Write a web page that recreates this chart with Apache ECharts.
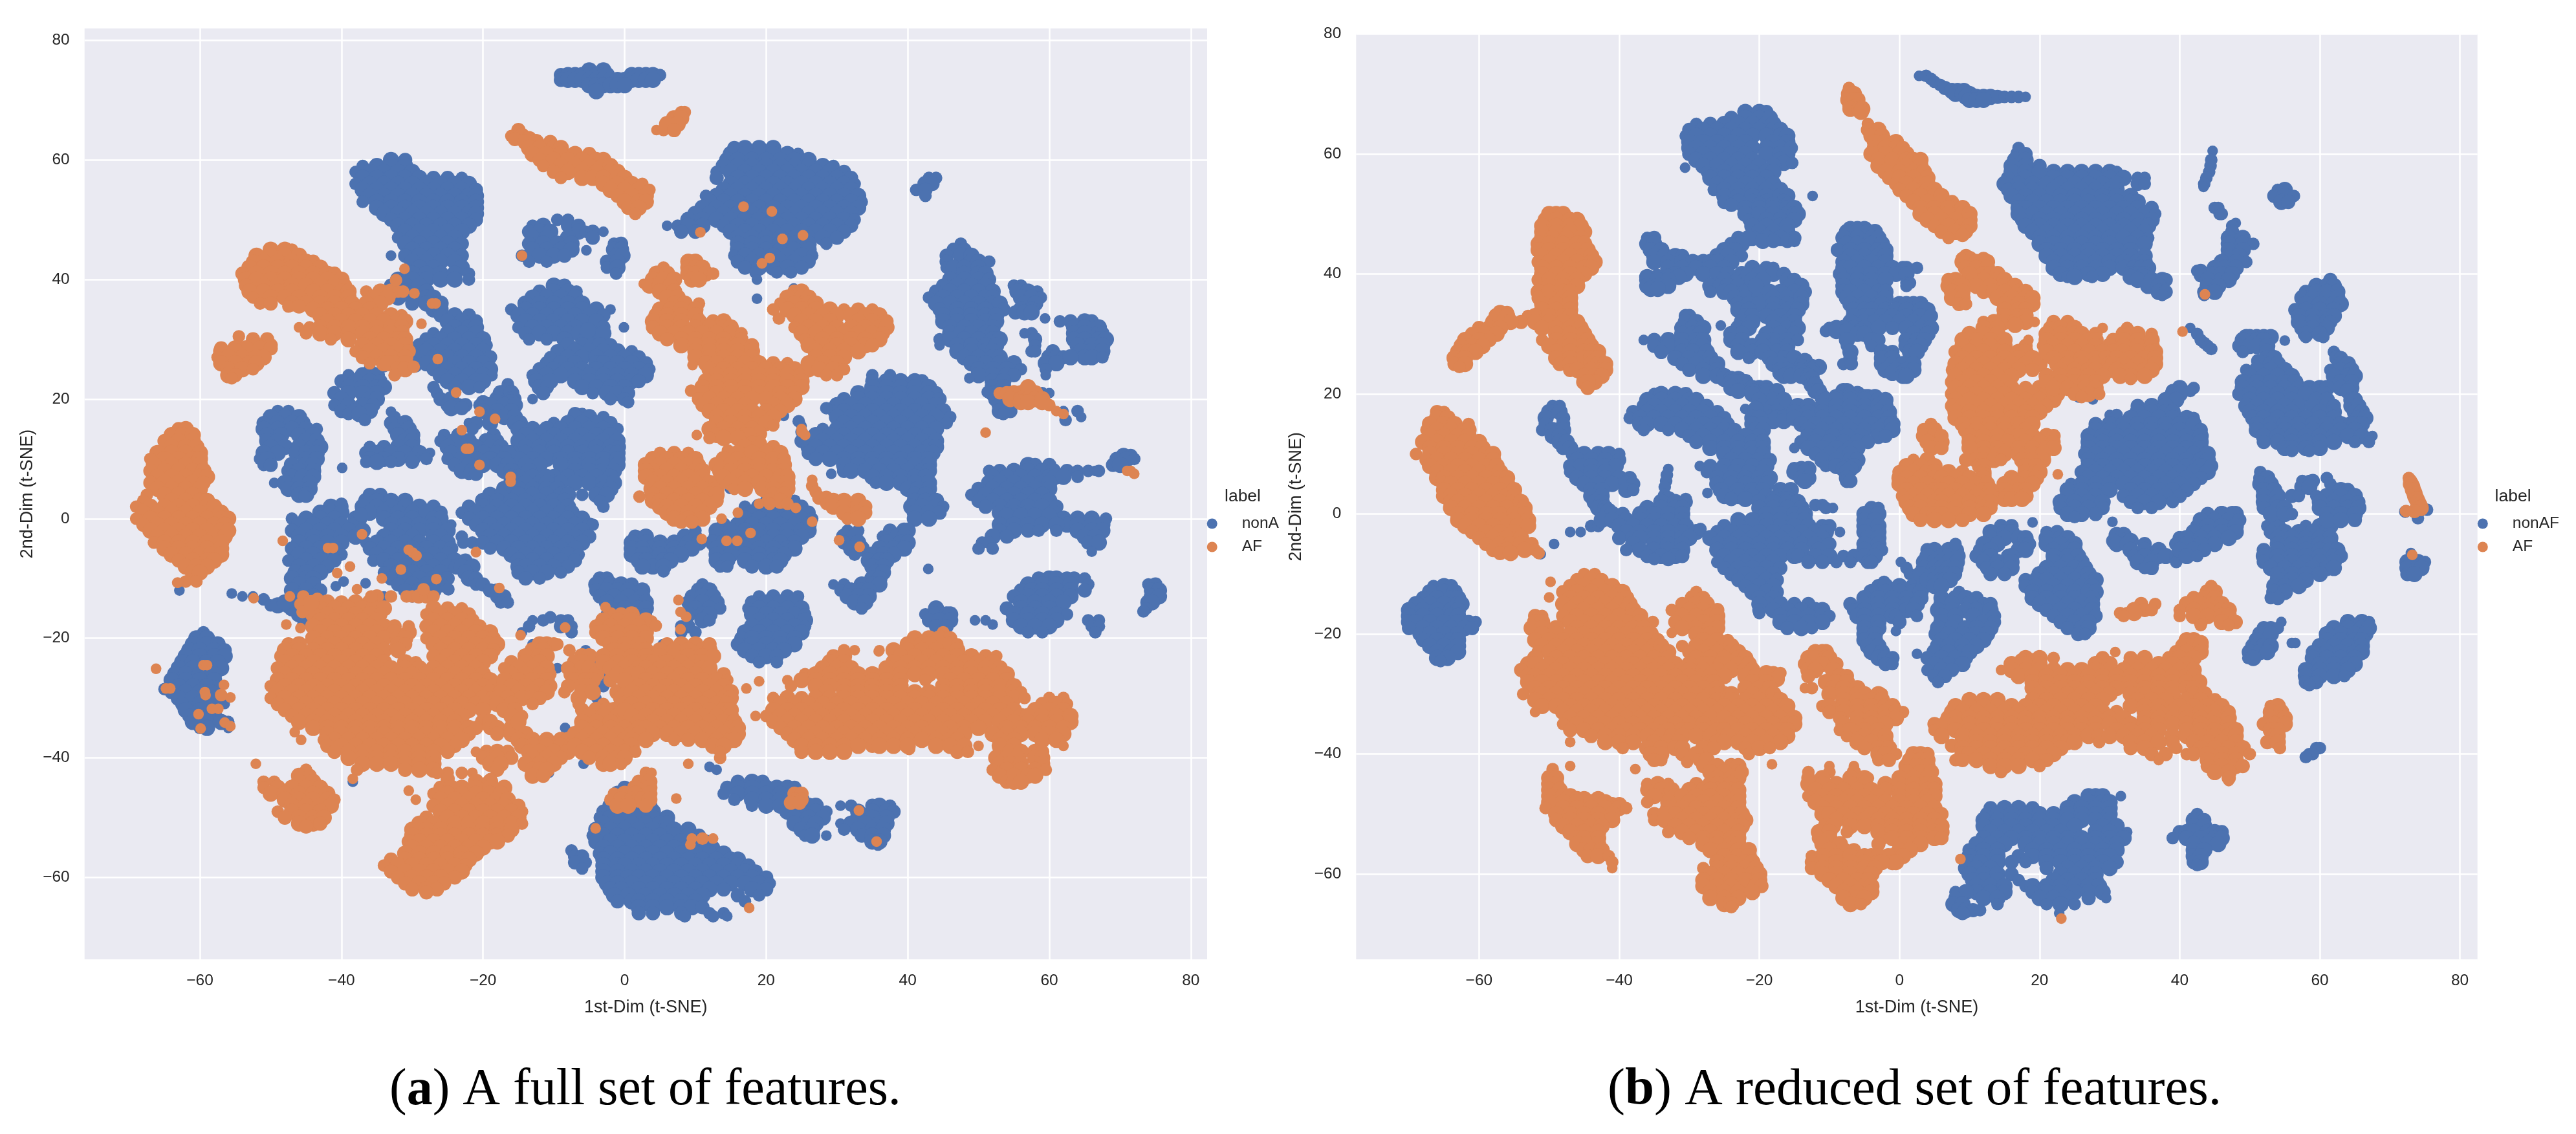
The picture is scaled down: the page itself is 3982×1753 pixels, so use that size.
<!DOCTYPE html>
<html><head><meta charset="utf-8">
<script src="https://cdn.jsdelivr.net/npm/echarts@6/dist/echarts.min.js"></script>
<style>html,body{margin:0;padding:0;background:#fff}#c{width:3982px;height:1753px}</style></head>
<body><div id="c"></div>
<script>
// Each row: [y, x, x, x ...], in t-SNE data units.
const xTickLabels=[-60,-40,-20,0,20,40,60,80];
const yTickLabels=[-60,-40,-20,0,20,40,60,80];
const fullNonAF=[
[75,-5,-3],[74.2,-9,-8,-7,-6,-5,-4,-3,-2.5,1,2,3,4,5],[73.4,-9,-8,-7,-6,-5,-4,-3,-2,-1,0,1,2,3,4],[72.5,-5,-4,-3,-2,-1,0],[71.5,-4],
[60,-33,-31],[59,-37,-35,-33,-31],[58,-38,-36,-34,-32,-30],[57,-37,-35,-33,-31,-29,-27,-25,-23],[56,-38,-36,-34,-32,-30,-28,-26,-24,-22],[55,-37,-35,-33,-31,-29,-27,-25,-23,-21],[54,-36,-34,-32,-30,-28,-26,-24,-22,-21],[53,-37,-35,-33,-31,-29,-27,-25,-23,-21],[52,-35,-33,-31,-29,-27,-25,-23,-21],[51,-34,-32,-30,-28,-26,-24,-22,-21],[50,-33,-31,-29,-27,-25,-23,-21],[49,-32,-30,-28,-26,-24,-22],[48,-31,-29,-27,-25,-23],[47,-32,-30,-28,-26,-24],[46,-31,-29,-27,-25,-23],[45,-30,-28,-26,-24],[44,-33,-31,-29,-27,-25,-23],[43,-30,-28,-26,-24],[42,-29,-27,-23],[41,-30,-28,-26,-24,-22],[40,-32,-30,-28,-26,-24,-22],
[39,-33,-31,-29],[38,-33,-31,-28],[37,-32,-30,-28,-27],[36,-30,-28,-26],[35,-27,-26],[34,-26],
[34,-24,-22],[33,-25,-23,-21],[32,-24,-22,-21],[31,-27,-25,-23,-21],[30,-28,-26,-24,-22,-20],[29,-29,-27,-25,-23,-21,-19.5],[28,-30,-28,-26,-24,-22,-20],[27,-29.5,-27,-25,-23,-21,-19],[26,-30,-28,-26,-24,-22,-20],[25,-27,-25,-23,-21,-19],[25.5,-34,-32.5,-31,-29.5],[24,-26,-24,-22,-20,-18.8],[23,-25,-23,-21,-20],[22,-24,-22,-20.5],
[25,-36],[24,-39,-37,-35],[23,-40,-38,-36,-34.5],[22,-39,-37,-35,-34],[21,-41,-39,-37,-35],[20,-40,-36,-35],[19,-41,-39,-37,-35.5],[18,-40,-38,-36],[17.5,-39,-37.5],[16.5,-36.7],[17.9,-33],
[22,-27],[21,-26.5],[20,-26,-24.5],[19,-25,-23.5,-22.5],[18.5,-24.5,-23],
[22.5,-16.5],[21.5,-16.5],[21,-17.5,-16],[20,-18,-16,-15.7],[19.5,-20,-18,-16],[19,-20.5,-19,-17,-15.5],[18,-20,-18,-16],[17,-19,-17,-15.5],[16,-22,-21,-19,-15.5,-14.8],[15,-21.5,-15,-14.8],
[17.5,-7,-6],[17,-7,-5,-3],[16,-10,-8,-6,-4,-2],[15,-13,-11,-9,-7,-5,-3,-1],[14,-14,-12,-10,-8,-6,-4,-2],[13,-15,-13,-11,-9,-7,-5,-3,-1],[12,-14,-12,-10,-8,-6,-4,-2,-0.8],[11,-16,-14,-12,-10,-8,-6,-4,-2,-1],[10,-15,-13,-11,-9,-7,-5,-3,-1],[9,-14,-12,-9,-7,-5,-3,-1],[8,-13.5,-7,-5,-3,-1.5],[7,-10,-8,-6,-4,-2],[6,-11,-9,-7,-5,-3,-1.5],[5,-3,-2],[4,-6,-4,-2.5],[3,-3.5],[2,-3],
[17,-32.5],[16,-33,-31],[15,-32.5,-30.5],[14,-32,-30],[13,-31,-30],[12,-36,-34,-32,-30],[11,-36.5,-35,-33,-31,-29,-27.5],[10,-36,-34,-32,-30,-28],[9.5,-36.5,-35,-33,-30],
[14,-25.5,-23.5,-18.5],[13,-26,-24,-22,-19.5,-18],[12,-25,-23,-21,-19,-17.5],[11,-24.5,-22,-20,-18,-16.5],[10,-25,-23,-21,-19,-17],[9,-24,-22,-20,-18,-16.5],[8,-23,-21.5,-17,-16],[7.5,-22,-21],[8.5,-39.9],
[18,-49,-47.5],[17,-50,-48,-46],[16,-51,-49,-47,-45.5],[15,-51,-49,-47,-45,-43.5],[14,-50.5,-48.5,-46,-44],[13,-50.5,-49,-45,-43.5],[12,-50,-48,-46,-44,-43],[11,-51,-49,-46.5,-45,-43.5],[10,-51.5,-50.5,-45,-43.5],[9,-51,-50,-47,-45,-44],[8,-47.5,-46,-44],[7,-47,-45.5,-44],[6,-49.5,-48,-46,-44.5],[5,-47.5,-46,-44.5],[4,-46,-45],[3.8,-45.2],
[2.5,-40],[2,-41.5,-40],[1,-43,-41.5,-40],[0,-47,-45,-43,-41,-38,-37.5],[-1,-46,-44,-42,-40,-38],[-2,-47,-45,-43,-41,-39,-37],[-3,-46,-44,-42,-40,-38],[-4,-46,-44,-42,-40],[-5,-47,-45,-43,-41],[-6,-46,-44,-42,-40],[-7,-47.5,-45,-43,-41],[-8,-46,-44,-42],[-9,-46.5,-45,-43],[-10,-47,-45,-44],[-11,-46,-44],[-12,-47,-45,-43],[-13,-46,-44],[-14,-47,-45,-43],[-15,-47,-45],[-16,-46,-45],[-17.5,-45.5],
[-12.5,-55.5],[-13,-54,-52.5],[-13.5,-51],[-14.5,-50,-49,-47.5],[-14,-48],[-11.3,-40.8],[-10.5,-39.7],[-10.8,-36.6],[-13,-34,-35.5],
[4,-36,-34.5],[3,-36.5,-35,-33,-31],[2,-37,-35,-33,-31,-29,-27],[1,-36,-34,-32,-30,-28,-26],[0.7,-37.3],[0,-34,-32,-30,-27,-26],[-1,-33,-31,-29,-27,-24.5],[-2,-33,-31,-29,-27,-25],[-3,-34,-32,-30,-27,-26],[-4,-36.5,-35,-33,-31,-29,-27,-25],[-5,-36,-34,-32,-30,-28,-26,-24.5],[-6,-35,-33,-31,-29,-27,-25],[-7,-35.5,-34,-32,-30,-28,-26,-24],[-8,-33,-31,-29,-27,-25,-23.7],[-9,-34,-32,-30,-28,-26],[-10,-33,-31,-29,-27,-25],[-11,-32,-30,-28,-26],[-12,-31,-29,-27],[-13,-30,-28],[-11.8,-24.9],
[-3,-23],[-4,-22.8,-21.5],[-7,-22.5],[-8,-23,-21.5],[-9,-22.5],[-10,-22,-21],[-11,-21,-20],[-12,-19,-18],[-13,-18,-17],[-14,-17.5,-16.5],
[7,-16,-15,-13,-11],[6,-16,-14,-12,-11],[5,-17,-15,-13,-11,-9.5],[4,-19,-17.5,-15,-13,-11,-9,-8],[3,-20,-18,-16,-14,-12,-10,-8.5],[2,-22,-20,-18,-16,-14,-12,-10,-8],[1,-23,-21,-19,-17,-15,-13,-11,-9,-7.5],[0,-22,-20,-18,-16,-14,-12,-10,-8,-6],[-1,-21,-19,-17,-15,-13,-11,-9,-7,-5,-4.5],[-2,-20,-18,-16,-14,-12,-10,-8,-6],[-3,-19,-17,-15,-13,-11,-9,-7,-5],[-4,-20,-18,-16,-14,-12,-10,-8,-6],[-5,-19,-17,-15,-13,-11,-9,-7],[-6,-16,-14,-12,-10,-8,-6.5],[-7,-15,-13,-11,-9,-7],[-8,-15,-14,-12,-10,-8],[-9,-15,-13,-11,-9],[-10,-14,-12],[20,-13],
[39,-10,-8.5],[38,-12,-10,-8,-6.8],[37,-13,-11,-9,-7],[36,-14,-12,-10,-8,-6],[35,-16,-14,-12,-10,-8,-6,-4,-2],[34,-15,-13,-11,-9,-7,-5,-3],[33,-14,-12,-10,-8,-6,-4],[32,-15,-13,-11,-9,-7,-3],[31,-14,-12,-10,-8,-6.5,-4.5,-3],[30,-13.5,-11,-8.5,-5.5],[31.5,-5.2],[32,-0.1],
[29,-8,-6,-3.5,-2],[28,-9.5,-7,-5,-3,-1,1],[27,-10.5,-8,-6,-4,-2,0,2],[26,-11,-9,-7,-4,-3,-1,1,3],[25,-12,-10,-8,-6,-4,-2,0,2,3.5],[24,-13,-11,-9,-7,-5,-3,-1,1,3],[23,-12.5,-10.5,-7,-5,-3,-1,1,2],[22,-12,-11,-6,-4,-2,0],[21,-11.5,-4.5,-2.5,-1,0.5],[20,-2,0],[19.5,0.5],
[50,-9.5,-8],[49,-13,-11.5,-8,-6.5],[48,-13.5,-12,-10.5,-6.5,-5.5,-4.5,-3],[47,-13,-11,-8,-4.5],[46,-13.5,-11.5,-9.5,-7.5,-1.5,-0.5],[45,-13,-11,-9,-7.5,-1.5,-0.5],[44,-14.5,-12,-10,-8.5,-1,-0.3],[44.9,-5.4],[43,-13.5,-11,-2.5,-1],[42,-2.5,-1],[41,-1.2],
[62,15.5,17,19,21],[61,15,17,19,21,23,24.5],[60,14.5,16,18,20,22,24,26],[59,14,16,18,20,22,24,26,28,29.5],[58,13,15,17,19,21,23,25,27,29,31],[57,13,16,18,20,22,24,26,28,30,32],[56,15,17,19,21,23,25,27,29,31,32.5],[55,14,16,18,20,22,24,26,28,30,32],[54,11.5,13,15,17,19,21,23,25,27,29,31,33],[53,12,14,16,18,20,22,24,26,28,30,32,33.5],[52,11,13,15,17,19,21,23,25,27,29,31,33],[51,10,12,14,16,18,20,22,24,26,28,30,32],[50,9,11,13,15,17,19,21,23,25,27,29,31,32.5],[49,6,7.5,9,11,14,16,18,20,22,24,26,28,30,32],[48,8,10,15,17,19,21,23,25,27,29,31],[47,16,18,20,22,24,26,28,30],[46,16,18,20,22,24,26,28.5],[45,16,18,20,22,24,26],[44,15.5,17,19,21,23,25,26.5],[43,16,18,20,22,24,26],[42,17,19,21,23,25],[41.2,18.5,21.5,23.5],[40,18.7],[36.8,18.7],[38.5,23.9],
[57,43,44],[56,42.5,43.5],[55,41.2,42.5],[54,42.5],
[46,47.5],[45,46.5,48],[44,45.5,47.5,49],[43,45.5,49,50,51.5],[42,45.5,46.5,48,50],[41,48,50,51],[40,46,48,50,51.5],[39,45,47,49,51],[38,44,46,48,50,52],[37,43,45,47,49,51,52],[36,44,46,48,50,52,53],[35,44.5,47,49,51,53.5],[34,45,47,49,51,52.5],[33,45,47,49,51,52.5],[32,46,48,50,52],[31,46,47.5,49,51,52],[30,44.5,46,48,50,52,53],[29,44.5,47,49,51,52.5],[28,47,49,51,52],[27,48,50,52,53],[26,49,51,53,55],[25,50,52,54,56],[24,50,52,54,55],[23,52,53.5],[23.5,48.7],[22,52,53.5],[21,52,54],[21.2,51.3],[20,52.5,54],[19,53,54.5],[18,53,54.5],[17.5,53.5],
[39,55,56],[38,55.5,57,58.3],[37,56,57.5,58.8],[36,56.5,58],[35,56,57.5],[34.5,55.2,56.5,57.5],[33.5,59.4],
[33,61.5,63,65,66],[32,63.5,65,67],[31,63.5,65,67,67.5],[30,63.5,65,67,68],[29,64,66,67.5],[28,64.5,66,67.5],[27,65,66,67.5],
[31,56.5,57.5],[30,58],[29,58],[28,57.5,58,60.5],[27,60,61,62,63],[26,59.5,61],[25,59.5],[24,59.5],[21,59,60,57.5],[18,62,64],[17,64.5],[16.5,62.3],[20,58.5],
[24,35,37.5],[23,35,37,39,41,42],[22,35,37,39,41,43],[21,33,35,37,39,41,43,44],[20,31,33,35,37,39,41,43,44.5],[19,30,32,34,36,38,40,42,44],[18,29.5,31,33,35,37,39,41,43,45],[18.5,28.5],[17,30,32,34,36,38,40,42,44,46],[17.2,22.5],[16.3,24.6],[16,31,33,35,37,39,41,43,45.5],[15,28,30,32,34,36,38,40,42,44],[15.5,25],[14.5,25],[14,27,29,31,33,35,37,39,41,43],[13,25,28,30,32,34,36,38,40,42,44],[12,26,27,29,31,33,35,37,39,41,43,44],[11,26,28,30,32,34,36,38,40,42,43.5],[10,27,29,31,33,35,37,39,41,43],[9,31,33,35,37,39,41,43],[8,31,32,34,36,38,40,42,43],[7.5,29.2],[7,35,37,39,41,42.5],[6,35.5,37,39,41,43],[5,40,41.5,43,14.9],[4,41,42.5],[3,41,42.5,44],[2,40.5,42,44,45],[1,41,43,44.5],[0,41,43],
[9,57,58,60],[8,51.5,53,55,57,59,60.5,62.5,64,65.5,66.5,67],[7,52,54,56,58,60,60.8,62,64],[6,51.5,53,55,57,59,60],[5,50,52,54,56,58,60],[4,49,51,53,55,57,59],[3,50,52,54,56,58,60],[2,51,53,55,57,59,61],[1,53,55,57,60.5],
[10.5,70.5,71.5],[10,69.5,71,72],[9,69,70],
[0,62,64,66,68],[-1,62.5,64,66,67.5],[-2,64,66,67.5],[-3,65,66.5],[-4,65.5,67],[-5.5,66],
[0.5,54,56,58,60],[-1,53,55,57,59,61],[-2,53,55,57,58.5,61],[-3,52,54],[-4,50.5,51.5],[-5,50,52],
[3,20,22,24],[2,17,19,21,23,25],[1,18,20,22,24,26],[0,17,19,21,23,25,26.5],[-1,14,16,18,20,22,24,26],[-2,13,15,17,19,21,23,25,26],[-3,13,15,17,19,21,23,25],[-4,12.5,14,16,18,20,22,24],[-5,13,15,17,19,21,23,24],[-6,13,15,17,19,21,22.5],[-7,13,14.5,17,19,21,22],[-8,13.5,14.5,18,20,21.5],
[-2,10],[-3,8.5,10,1.5,3],[-4,5,7,9,10.5,1,3],[-5,3.5,5,7,8.5,9.5,1,2.5],[-6,3,5,7,8,1,2.5],[-7,3.5,5.5,6.5,2,3],[-8,4,5.5,2.5],[-8.8,5.5],
[-2,31.5,33,37.5,39.5,40],[-3,31,32.5,36.5,38.5,39.5],[-4,31,33,37,39,40],[-5,32,33.5,36,38,39.5],[-6,32.5,35,36.5,38],[-7,34.5,36,37],[-8,35,36.5],[-9,35.5,36.5],[-10,35,36],[-11,29.5,31,33.5,35,36],[-12,30.5,32,33.5,34.5],[-13,31.5,33,34.5],[-14,32.5,34],[-15,33.5],
[-8.4,42.9],[-15,44],[-16,42.5,44,45.5,46],[-17,43,44.5,46,49.5,51],[-18,44,45.5],[-17.7,52],
[-10,58.5,60,61,62.5,63.5,65],[-11,57,59,61,63,65.5],[-12,56,57.5,59,61,63,65],[-13,55,57,59,61,63],[-14,56,58,60,62],[-15,54,56,58,60],[-16,55,57,59,61,62.5],[-17,55,57,59,61,65.5,67],[-18,56,58,60,66,67],[-19,57,59,66.5],
[-11,74,75],[-12,74.5,75.5],[-13,74.5,75.5],[-14,74,74.5],[-15,73.7],[-15.5,73.3],
[-13,19,21,23,24.5],[-14,18,20,22,24],[-15,17.5,19,21,23,25],[-16,18,20,22,24,25.5],[-17,19,21,23,25.5],[-18,18,20,22,24,25.5],[-19,17,19,21,23,25],[-20,16.5,18,20,22,24],[-21,16,18,20,22,24],[-22,17,19,21,22.5],[-23,18,20,21.5],[-24,19,21.5],
[-11,11],[-12,10.5,12],[-13,9.5,11,12.5],[-14,9,11,13],[-15,10,12,13.5],[-16,9,11,12],[-17,11,12],[-18,8,9],[-19,8,10],[-21,5.4],
[-10,-3.5,-2.5],[-11,-4,-2,-0.5,1],[-12,-4,-2.5,-1,0.5,2.5],[-13,-3.5,-1.5,0.5,2.5],[-14,-2.5,-0.5,1.5,3],[-15,-2,0,2,3],[-16,-2.5,-1,1,3],
[-16.5,-10.5],[-17,-13,-11.5,-9,-8],[-18,-13.5,-9,-7.5],[-19,-14.5,-7.5],[-21,-13],[-23,-11,-6],[-25,-9.5,-7],[-29,-13.5],[-30,-12.5,-4],[-22,-5.5],[-24,-6,-4],[-26,-6.5,-4.5,-3],[-28,-5,-3],[-35,-8.4],[-41,-5.8],[-42.5,-10.7],[-39,-9],[-44,-38.4],
[-19,-59.5],[-20,-60.5,-59],[-21,-61,-59,-57.5],[-22,-61.5,-60,-58,-56.5],[-23,-62,-60,-58,-56.5],[-24,-62.5,-61,-59,-57.5],[-25,-63,-61,-59,-57],[-26,-63.5,-62,-60,-58],[-27,-64,-62,-60,-58],[-28,-63,-61,-59,-57.5],[-28.5,-65],[-29,-64,-62,-60,-58.5],[-30,-63,-61,-59],[-31,-62.5,-60,-58,-56.5],[-32,-62,-60,-58],[-33,-61.5,-60,-58],[-34,-61,-59,-57,-56],[-35,-60,-59,-56],[-12,-62.9],
[-45,0,1.5],[-46,-1,0.5,2],[-47,-1.5,0,2,3],[-48,-2,0,2,3.5],[-49,-3,-1,1,3,4],[-50,-3.5,-2,0,2,4,6],[-51,-3,-1,1,3,5,6],[-52,-4,-2,0,2,4,6,7,9],[-53,-4.5,-3,-1,1,3,5,7,9,10.5],[-54,-4,-2,0,2,4,6,8,10,11.5],[-55,-3,-1,1,3,5,7,9,11,12.5],[-56,-3.5,-2,0,2,4,6,8,10,12,14],[-57,-3,-1,1,3,5,7,9,11,13,15,16],[-58,-3,-1,0,2,4,6,8,10,12,14,16,17.5],[-59,-3,-1,1,3,5,7,9,11,13,15,17,18.5],[-60,-3,-1,0.5,2,4,6,8,10,12,14,16,18,20],[-61,-2.5,-1,1,3,5,7,9,11,13,15,17,19,20.5],[-62,-2,-0.5,2,4,6,8,10,12,14,18,20],[-63,-1.5,0.5,3,5,7,9,11,16,19],[-64,-1,1,2,4,6,8,10,17],[-65,2,4,6,8,9.5,11],[-66,2,4,8,12,14],[-66.5,8.5,12.5,14.5],
[-55.5,-7.5],[-56.5,-7,-6],[-57.5,-7,-5.5],[-58.5,-6],
[-44,16,18,19.5],[-45,14.5,16,18,20,21.5,23,24],[-46,14,16,18,20,22,24],[-47,15.5,18,20,22,24,25],[-48,18,20,22,24,26,27],[-49,23,25,27,28.5],[-50,24,26,28],[-51,24,26,27],[-52,25,26.5],[-53,25.5,26.5,28.5],
[-48,30.5,32,35,36,37.5],[-49,33,35,37,38],[-50,33,35,37],[-51,30.5,32,34,36,37],[-52,31,33,35,36.5],[-53,33.5,35,36.5],[-54,35,36],[-54.5,35.8],[-41.5,12],[-42,13]
];
const fullAF=[
[65,-15],[64,-16,-14.5],[63.5,-15.5,-13.5],[63,-14,-12.5,-10.5],[62,-13.5,-12,-10,-9],[61,-13,-11,-9,-7,-5],[60,-12,-10,-8,-6,-4,-3],[59,-11.5,-9,-7,-5,-3,-2],[58,-10,-8,-6,-4,-2,-1],[57,-9,-6,-4.5,-3,-1,0],[56,-3,-1,1,2.5],[55,-2,0,2,3.5],[54,-1,1,3],[53,0,2,3],[52,0.5,2],[51,1.5],
[68,8,8.5],[67,7,8],[66,6,7.5],[65,4.5,5.5,7],
[45,-50,-48,-47],[44,-52,-50,-48,-46],[43,-52.5,-51,-49,-47,-45,-44],[42,-53,-51,-49,-47,-45,-43],[41,-54,-52,-50,-48,-46,-44,-42,-41],[40,-53.5,-52,-50,-48,-46,-44,-42,-40],[39,-53.5,-51,-49,-47,-45,-43,-41,-39.5],[38,-53,-51,-49,-47,-44,-42,-40,-39,-36.5,-34.5,-33,-32],[37,-52.5,-50,-48,-46,-43,-41,-39,-35.5,-35,-33.5],[36,-51.5,-50,-47,-45,-43,-41,-39,-38.5,-36.5,-34.5],[35.5,-47.5,-46],[35,-44,-42,-40,-38,-36],[34,-43,-41,-39,-37,-35,-33,-31.5],[33,-42,-40,-38,-36,-34,-32,-31],[32,-46,-44.5,-43,-41,-39,-37,-35,-33,-31.5],[31,-45,-43,-41,-39,-37,-35,-33,-31.5],[30,-41.5,-39,-36,-34,-32,-31],[29,-37,-35,-33,-31],[28,-38,-36,-34,-32,-30.5],[27,-37,-35,-33,-31],[26,-36,-34,-32.5,-31,-33.5],[25,-32,-31],[24,-32.5],
[41.8,-31.1],[39.9,-32.3],[38,-31.3],[37.7,-29.7],[36,-27.2,-26.7],[32.6,-28.7],[26.7,-26.4],[25.4,-29.8],[21.1,-23.8],[17.9,-20.5],[16.7,-18.3],[14.8,-23],[11.7,-22.4,-22],[9,-20.5],[7,-16.1],[6.2,-16.1],[44,-14.5],
[30.5,-54.5],[30,-52.5,-50.5],[29,-52,-50],[28.5,-57,-55,-53.5,-51.5,-50],[28,-57,-55],[27,-57.5,-56,-54,-52,-51],[26,-57,-55,-53,-52],[25,-56,-54,-52.5],[24,-56,-55],[23.5,-55.5],
[15,-63,-62],[14,-64,-62.5,-61],[13,-65,-63,-61],[12,-64,-62,-60.5],[11,-66,-64,-62,-60],[10,-67,-65,-63,-61,-60],[9,-66.5,-64,-62,-60],[8,-67,-65,-63,-61,-59.5],[7,-66,-64,-62,-60,-59],[6,-67,-65,-63,-61,-59.5],[5,-66,-64,-62,-60],[4,-67.5,-65,-63,-61],[3,-68,-64,-62,-60,-59],[2,-69,-67,-65,-63,-61,-59,-58],[1,-68,-66,-64,-62,-60,-58,-57],[0,-69,-67,-65,-63,-61,-59,-57,-56],[-1,-68,-66,-64,-62,-60,-58,-56.5],[-2,-67,-65,-63,-61,-59,-57,-56],[-3,-66,-64,-62,-60,-58,-56.5],[-4,-66.5,-65,-63,-61,-59,-57],[-5,-65,-63,-61,-59,-57],[-6,-64,-62,-60,-58.5,-57],[-7,-63,-61,-59,-58],[-8,-62,-60.5,-59],[-9,-61,-60],[-10.5,-62,-60.5],[-10.7,-63.2],
[-13,-35,-33,-30.8,-30,-29.1,-28,-27],[-14,-42,-40,-38,-36],[-15,-43,-41,-39,-37,-35.5,-34,-27,-25,-23],[-16,-44,-42,-40,-38,-36,-34.5,-28,-26,-24,-22],[-17,-43,-41,-39,-37,-35,-27,-25,-23,-21.5],[-18,-44,-42,-40,-38,-36,-34,-32.5,-30.5,-28,-26,-24,-22,-20.5],[-19,-43,-41,-39,-37,-35,-32.5,-30.5,-27,-25,-23,-21,-19],[-20,-44,-42,-40,-38,-36,-34,-32,-31,-28,-26,-24,-22,-20,-18.5],[-21,-47.5,-46,-43,-41,-39,-37,-35,-32,-31,-27,-25,-23,-21,-19,-18],[-22,-48,-46,-44,-42,-40,-38,-36,-34,-32,-26,-24,-22,-20,-18.5],[-23,-48.5,-47,-45,-43,-41,-39,-37,-35,-27,-25,-23,-21,-19],[-24,-48,-46,-44,-42,-40,-38,-36,-34,-31,-29.5,-26,-24,-22,-20],[-25,-49,-47,-45,-43,-41,-39,-37,-35,-33,-31,-29,-27,-25,-23,-21],[-26,-48,-46,-44,-42,-40,-38,-36,-34,-32,-30,-28,-26,-24,-22,-20],[-27,-49,-47,-45,-43,-41,-39,-37,-35,-33,-31,-29,-27,-25,-23,-21,-19],[-28,-50,-48,-46,-44,-42,-40,-38,-36,-34,-32,-30,-28,-26,-24,-22,-20,-18.5],[-29,-49,-47,-45,-43,-41,-39,-37,-35,-33,-31,-29,-27,-25,-23,-21,-19],[-30,-50,-48,-46,-44,-42,-40,-38,-36,-34,-32,-30,-28,-26,-24,-22,-20,-18.5],[-31,-49,-47,-45,-43,-41,-39,-37,-35,-33,-31,-29,-27,-25,-23,-21,-19.5],[-32,-48,-46,-44,-42,-40,-38,-36,-34,-32,-30,-28,-26,-24,-22,-20],[-33,-47,-45,-43,-41,-39,-37,-35,-33,-31,-29,-27,-25,-23],[-34,-46,-44,-42,-40,-38,-36,-34,-32,-30,-28,-26,-24,-20,-19],[-35,-44,-42,-40,-38,-36,-34,-32,-30,-28,-26,-24,-22,-21,-19,-18,-16],[-35.7,-46.6],[-36,-42,-40,-38,-36,-34,-32,-30,-28,-26,-24,-22,-18,-16,-14],[-37,-41,-39,-37,-35,-33,-31,-29,-27,-25,-23,-15,-13,-11,-9,-8,-45.7,-42.5],[-38,-42,-40,-38,-36,-34,-32,-30,-28,-26,-24,-14.5,-13,-11,-9,-7.5],[-39,-41,-39,-37,-35,-33,-31,-29,-27,-25,-21,-19.5,-18,-16.5,-13.5,-12,-10,-8],[-40,-39,-37,-35,-33,-31,-29,-27,-20,-18,-16,-13,-11,-9],[-41,-37,-35,-33,-31,-29,-27,-52.1,-19,-17.5,-14,-12,-10],[-42,-31,-29,-27,-37.8,-18,-13,-12,-11],[-42.5,-26.5,-25,-23,-21.5],[-43,-13,-11.5],[-43.5,-25,-38.4],[-45.5,-30.5],[-47,-29.5],
[-21,-12,-11,-10,-9.5],[-22,-13,-11.5,-7.8],[-23,-14,-12,-11,-6,-5],[-24,-16,-14,-12,-7,-6],[-25,-17,-15,-13,-11,-8,-6,-5],[-26,-16,-14,-12,-10.5,-7.5,-4],[-27,-17,-15,-13,-11,-7,-5.5,-4.5,-2],[-28,-16,-14,-12,-10.5,-8,-6,-5,3],[-29,-17.5,-15,-13,-11,-8.5,-6,-4.5,-1,0.5],[-30,-18,-16.5,-14.5,-13,-12,-6.5,-0.5,1],[-31,-18,-16,-13,-6.5,-3,0],[-32,-17,-15.5,-6,-4,-2.5,-1.5],[-33,-16,-14.5,-5,-3,-1],[-34,-15,-6,-4,-2,0],[-19.5,-14.7],[-18.2,-8.4],
[-16,-2,-0.5,1],[-17,-3,-1,1,3],[-18,-4,-2,0,2],[-19,-4,-3,-1,1,3],[-20,-3,-1,1,3],[-21,-2,0,2,6,8,10,12],[-22,-1.5,0,2,3,5,7,9,11,12],[-23,-3,-1,1,3,5,7,9,11,12.5],[-24,-3,-1,1,3,4,6,8,10,11],[-25,-2,0,2,3,5,7,9,11,12],[-26,-1,1,2,4,6,8,10,12,14],[-27,0,3,5,7,9,11,13,14.5],[-28,2,4,6,8,10,12,14],[-29,1,3,5,7,9,11,13,15],[-30,2,4,6,8,10,12,14,15],[-31,1,3,5,7,9,11,13,14.5],[-32,0,2,4,6,8,10,12,14,15],[-33,1,3,5,7,9,11,13,15],[-34,2,4,6,8,10,12,14,15.5],[-35,-6,-4,-2,0,2,3,5,7,9,11,13,15,16],[-36,-7,-5,-3,-1,1,2,4,6,8,10,12,14,16],[-37,-6,-4,-2,0,1,3,7,9,11,13,15,15.5],[-38,-7,-5,-3,-1,1,12.5,14],[-39,-6,-4,-2,0,1.5,13.5],[-40,-5,-3,-1,0,13.5],[-41,-3,-2,-0.5,9],[-42.5,3,3.8],[-44,2,3.5],[-45,1.5,3.5],[-46,-1.5,0,1.5,3.5],[-47,-2,-0.5,1,2,2.5,3.5],[-48,-1,0.5,3],[-51.8,-4.1],[-46.8,7.3],
[-28.4,17.2],[-27.2,19],[-3.6,30.3],[-4.7,33.2],[-38.5,40.2],[-22.2,35.9],[-54,35.6],[-48.8,33.1],[-65.1,17.6],[-53.5,9.5,11,12.5],[-54.5,9.3],[-46,24,25],[-47,24,25],[-47.5,23.5,24.7],[-3.7,14.4,15.9],[-2.4,17.8],[-3.4,10.9],[-13.6,7.6],[-15.6,7.9],[-16.4,8.7],[-18.5,7.9],[-17.2,3.8],[-17.9,4.4],[-0.5,26.5],
[-19,45],[-20,41,43,44.5,46],[-21,40,42,43,46,47],[-22,31,32.5,36,38,40,42,44,47],[-23,29.5,31,39,41,43,45,47,49,51,52.5],[-24,29,31,38,40,42,44,46,48,50,52],[-25,28,30,32,37,39,41,43,45,47,49,51,53],[-26,25.5,27,29,31,33,35,37,39,41,43,45,47,49,51,53,54],[-27,23,25,27,29,31,33,35,37,39,42.5,46,48,50,52,54],[-28,23.5,27,29,31,33,35,37,39,45,47,49,51,53,55],[-29,28.5,31,33,35,37,39,41,43,45,47,49,51,53,55,56],[-30,21,23,25,27,29,31,33,35,37,39,41,43,45,47,49,51,53,55,56.5,60,62],[-31,22,24,26,28,30,32,34,36,38,40,42,44,46,48,50,52,54,59,61,62.5],[-32,21,23,25,27,29,31,33,35,37,39,41,43,45,47,49,51,53,55,58,60,62],[-33,18.5,20,22,24,26,28,30,32,34,36,38,40,42,44,46,48,50,52,54,56,57,59,61,63],[-34,21,23,25,27,29,31,33,35,37,39,41,43,45,47,49,51,53,55,57,59,61,63],[-35,22,24,26,28,30,32,34,36,38,40,42,44,46,48,50,54,56,58,60,62],[-36,23,25,27,29,31,33,35,37,39,41,43,45,47,48,52,54,56,58,60,62],[-37,24,26,28,30,32,34,36,38,40,42,44,46,47,53,55,59,61],[-38,25,27,29,31,33,35,36,38,40,44,46,48,50,53,55,62],[-39,25,27,29,31,47,48.5,54.5,56,58,59],[-40,52.5,54,55.5,58,59],[-41,53,54.5,56,59],[-42,52,54,56,58,59.5],[-43,53,55,57,58],[-44,54,55,56],
[21,53,54,55,56,57,58],[22,57],[20,54.5,56,57,58,59],[19.5,56,57,59],[19,60],[18,61],[17.5,62],[14.4,51],[8,71,71.5],[7.5,72],
[43,9,10],[42,5.5,9,10,11],[41,4.5,6,9,10,11.5,12.5],[40,4,5.5,7,9.5,10.5],[39.3,2.7],[39,3.5,5,6.5],[38,5,7],[37,6,7.5],[36,7,8.5,10.5],[35,5,6.5,8,10],[34,4.5,6,8,10],[33,4,6,8,10.5,12.5,14],[32,4,6,8,10,12,14,15],[31,5,7,9,11,13,15,16.5],[30,6,8,10,12,14,16.5],[29,8,10,12,14,16,18],[28,10,12,14,16,18],[27,10,12,14,16,18],[26,11.5,13,15,17,19,21,23],[25.7,9.6],[25,12,14,16,18,20,22,24,26],[24,13,15,17,19,21,23,25],[23,11.5,13,15,17,19,21,23,25],[22,11,13,15,17,19,21,23,25],[21.4,9.4],[21,11,13,15,17,19,22,24],[20,10.5,12,14,16,18,20,22,24],[19,11,13,15,17,21,23],[18,12,14,16,18,20,22],[17,13,15,17,19,21],[16,13,15,17,19,20],[15.6,21],[15,12,14,16,18],[14.2,19],[14,13,15,17,10.2,17.5],[13.5,14,16,12],[33.5,21.8],
[38,24,25],[37,23,25,26],[36,22,24,26,27],[35,21,23,25,27,29,31,33,35],[34,24,26,28,30,32,34,36],[33,25,27,29,33,35,37],[32,24,26,28,30,32,34,36,37],[31,25,27,29,31,33,35,36.5],[30,25.5,28,30,32,34,36],[29,26,28,30,32,34,35],[28,27,29,31,33],[27,27,29,31],[26,26,28,30],[25,27.5,29.5,31],[24,28.5,30],
[11,5,7,9],[10,4,6,8,10],[9,3.8,5,7,9,10.5,3],[8,4,6,8,10,11,3],[7,3.8,5,7,9,11,3],[6,4,6,8,10,12,13],[5,3.8,5,7,9,11,13],[4,4,6,8,10,12,13],[3.7,2.1],[3,4,5,7,9,11,13],[2,5,6,8,10,12],[1,6,7,9,11],[0,7,9,11],[-0.5,8,9.5],
[12.5,18,19],[12,17,19,21],[11.4,14.6],[11,16,18,20,22],[10,14,16,19,21,22.5],[9,13,15,17,19,21,22.5],[8,13.5,15,17,19,21,22.5],[7,14,16,18,20,22,23],[6,15,17,19,21.5,23],[5,15.5,17,19.5,21,23],[4,21,22.5],[3,20.5,22],
[6.5,26.5],[5.5,26.5],[4.5,27],[3.5,27.5,28.5],[2.5,28.5,19,20.5,23],[15,25],[14.5,25],[14,25.5],[3,29.5,31,33],[2,29.5,31,33,34],[1,31,33,34,16],[0,31.5,33,13.7],[1.8,24.2],
[47.9,10.7],[52.2,16.8],[51.4,20.8],[46.8,22.3],[47.4,25.2],[43.6,20.5],[42.7,19.4],
[-42,-45],[-43,-46,-44.5],[-44,-51,-49.5,-46,-44],[-45,-51,-49,-47,-45,-43],[-46,-50,-48,-46,-44,-42],[-47,-48,-46,-44,-42,-41],[-48,-47,-45,-43,-41.5],[-49,-49,-47,-45,-43],[-50,-48,-46,-44,-42.5],[-51,-46,-44,-43],[-51.5,-45],
[-43.5,-18.9],[-44,-21,-19],[-45,-26,-24.5,-23,-21,-19,-17],[-46,-27,-25,-23,-21,-19,-17.5],[-47,-26,-24,-22,-20,-18,-16.5],[-48,-27,-25,-23,-21,-19,-17,-15],[-49,-26,-24,-22,-20,-18,-16,-14.5],[-50,-28,-25,-23,-21,-19,-17,-15],[-51,-29,-27,-24,-22,-20,-18,-16,-14.5],[-52,-30,-28,-26,-24,-22,-20,-18,-16],[-53,-30,-28,-26,-24,-22,-20,-18,-16.5],[-54,-30.5,-29,-27,-25,-23,-21,-19,-18],[-55,-30,-28,-26,-24,-22,-20],[-56,-31,-29,-27,-25,-23,-21],[-57,-33,-31,-29,-27,-25,-23,-22],[-58,-34,-32,-30,-28,-26,-24,-22.5],[-59,-33,-31,-29,-27,-25,-23],[-60,-32,-30,-28,-26,-24],[-61,-31,-29,-27,-25.5],[-62,-30,-28,-26.5],[-62.5,-28],
[-25.1,-66.2],[-28.4,-64.8,-64.2],[-24.5,-59.5,-59],[-27.8,-56.6],[-29,-59.3],[-29.5,-59.2,-57],[-29.9,-55.7],[-31.8,-58.3,-57.4],[-32.7,-60.2],[-34.1,-56.5],[-34.7,-55.7],[-35.1,-59.9],
[-10.7,-63.1],[-3.7,-48.3],[-4.9,-41.9,-41.2],[-2.6,-37.1],[-8,-38.8],[-9.1,-40.6],[-11.8,-37.8,-28.4],[-13,-47.3,-45.4,-35.8],[-13.3,-52.4],[-14.3,-45.8],[-15.6,-45.5],[-13.4,-43.4],[-14.1,-44.3],[-17.7,-47.8],[-18.3,-45.8],[-10,-34.3],[-5.2,-30.5],[-5.7,-29.9],[-6.2,-29.4],[-8.5,-31.6],[-10.1,-26.6],[-5.6,-21],[-11.6,-17.7],[-14.8,-2.7]
];
const reducedNonAF=[
[73,2.8,3.8],[72.5,4.5],[72,5],[71.5,5.8],[71,6.5],[70.5,7.5,8.3,9.2],[70,8,9,10],[69.5,9.5,11,12,13,14,15,16,17,18],[69,10,11,12],
[67,-22,-20,-19],[66,-24,-22,-20,-18.5],[65,-29,-27,-25,-23,-21,-19,-18],[64,-30,-28,-26,-24,-22,-20,-18,-17],[63,-30.5,-29,-27,-25,-23,-21,-19,-17,-16],[62,-30,-28,-26,-24,-22,-18,-16],[61,-30,-29,-27,-25,-23,-21,-19,-17,-15.5],[60,-30,-28,-26,-24,-22,-19,-17,-16],[59,-29,-27,-25,-23,-21,-17],[58.5,-16.5,-15.3],[58,-28,-26,-24,-22,-20,-18],[57.7,-30.6],[57,-27.5,-25,-23,-21,-19,-18],[56,-27,-25,-23,-21,-19],[55,-26,-24,-22,-20,-18],[54,-26.5,-25,-23,-21,-19,-17],[53,-25,-23,-21,-19,-17,-16,-12.4],[52,-25,-23,-21,-19,-16.5],[51.5,-24,-20,-18,-16],[51,-22,-20,-18,-16,-15],[50,-22,-20,-18,-16,-15,-14.5],[49,-21.5,-19,-17,-15],[48,-21,-19,-17,-16],[47,-20,-18,-16],[46,-21,-19,-17,-15,-21.5,-23],[45.5,-19.5,-18,-16,-15],
[46,-36,-35],[45,-36,-35,-24,-22.5],[44,-35.5,-34,-25,-23.5],[43,-35,-33.5,-32,-31,-26,-24.5,-22.5],[42,-35,-33,-31,-29.5,-28,-27,-26,-24],[41,-33,-31,-29,-27,-25],[40,-32,-30.5,-28,-26,-24.5,-22.5],[39.5,-36,-34.5,-33,-31.5],[39,-36,-34.5,-33,-25,-23,-22],[38,-36,-34.5,-33,-27,-25.5,-24.5,-23],[37.5,-35.5,-34.5],[37,-27,-25,-24,-22,-20],[36,-23.5,-22,-20],[35,-23,-21.5,-20],[34,-23,-21.5],
[41,-21,-19,-18],[40,-21.5,-20,-18,-16.5],[39,-21,-19.5,-16,-15],[38,-20.5,-15.5,-14],[37,-18.5,-17,-15,-13.5],[36,-18,-16,-14],[35,-18,-16,-14],[34,-18,-16,-14.5],[33,-19,-17,-15,-22,-21],[32,-18,-16,-15,-22.5,-21],[31.4,-25.5],[31,-18,-16,-14.5,-23,-21.5],[30,-19,-17,-15,-24,-22.5],[29,-18,-16,-14.5,-24,-22.5,-19.5],[28,-18,-16,-23,-21,-19.5],[27,-17.5,-16,-23,-21,-19.5],[26,-16.5,-15,-21.5,-18.5],[25.5,-13.5],[25,-18,-17],[24.5,-14,-12.5,-11.5],[24,-17,-16,-14,-13,-12.5],[23.5,-17,-15.5,-14,-12.5],[23,-16.5,-15.5,-14,-13],[22.5,-13,-12.5],
[33,-30.5,-30],[32,-30.5,-29],[31,-31,-29.5,-28],[30,-31,-29.5,-28.5],[29,-36.5,-35,-33,-31,-29,-28],[28,-35,-33,-31,-29,-28],[27,-34,-31,-29.5,-27.5],[26,-32,-30,-28,-27],[25,-31,-29,-27,-26],[24,-30,-28,-26],[23,-28,-26,-25],[22.5,-25,-24,-23],[22,-24,-23,-22],[21,-24,-22,-21,-20,-19],[20.5,-23,-21,-19,-17.5],[20,-21,-19,-17.5],[19,-20,-18,-16.5],[18,-19.5,-18,-17,-16],[17,-19,-17.5],[16,-18.5,-17.5,-16.5],[15.5,-18,-16.5],
[47.5,-7,-6,-5],[47,-7.5,-6,-4.5,-3.5],[46,-8,-6,-4,-3],[45,-7.5,-6,-4,-2.5],[44,-8.8,-7,-5,-3,-2],[43,-7,-5,-3,-2],[42,-8,-6,-4,-2],[41,-8,-7,-5,-3,-1,0.5,1,2.5],[40,-8.5,-6,-4,-2,-0.5,1],[39,-8,-6,-4,-2],[38.5,1,1.5],[38,-8,-6,-4,1],[37,-8,-7,-5,-3,-2],[36,-7.5,-6,-4,-2],[35,-7,-5,-3,-2.5,0,1,2,3],[34,-6.5,-5,-4,-2,-0.5,1,3,4],[33,-6.5,-5,-4,-2.5,-2.5,-1,1,3,4.5],[32,-7,-5,-3.5,-2,0,2,4],[31,-10,-9,-8,-6.5,-5,-3,-1,1,3,4.5],[30.5,-10.5,-9,-7.5,-5.5],[30,-6,-5,2,4,4],[29,-7.5,-4,-3,1,2.5,3.5],[28,-7.5,-4,1,2,3],[27,-7,-2.5,-1,1.5,2.5],[26,-7,-2.5,-1],[25,-8,-7,-6.8,-2.5,-1,0.5,2],[24,-2,-0.5,1,2],[23.5,-1,0.5],[23,0.5,1],
[20,-35,-34,-32,-30.5],[19,-36,-34,-32,-30,-29],[18,-36.5,-35,-33,-31,-29,-27.5],[17,-38,-36,-34,-32,-30,-28,-26],[17.5,-22,-20.5],[16,-38.5,-37,-35,-33,-31,-29,-27,-25,-21,-20],[15,-37,-36,-34,-32,-30,-28,-26,-24.5,-21,-19.5],[14,-36.5,-33,-31,-29,-27,-25,-23.5,-20.5,-19.5],[13,-30,-28,-26,-24,-22,-20],[12,-29,-27,-25,-23,-21,-19.5],[11,-27,-25,-23,-21,-19.5],[10,-25,-23,-21,-19.5],[9,-24,-22,-20,-18.5],[8,-28.5,-27,-25,-23,-21,-19],[7,-27.5,-25.5,-23.5,-21.5,-19.5],[6,-26,-24,-22,-20,-18.5],[5,-26,-24,-22,-20,-19],[4,-25.5,-23,-21,-19.5,-17,-15.5],[3.5,-27.4],[3,-25,-23,-21,-19,-17,-16],[2.5,-24,-22,-18,-16],[2,-20,-18,-16,-14.5],[1,-20,-18,-16,-14],[0,-19,-17,-15,-13.5],
[21.5,-12.5,-12],[20.5,-12,-11.5,-8,-7.5],[20,-7,-6],[19.5,-11,-9,-7,-5,-4.5,-3.5],[19,-10.5,-9,-7,-5,-3,-2],[18,-14.5,-13,-11,-9,-7,-5,-3,-2],[17,-15,-13,-11,-9,-7,-5,-3,-1.5],[16,-15,-13,-11,-9,-7,-5,-3,-1.5],[15,-14,-12,-10,-8,-6,-4,-2,-1],[14,-13,-11,-9,-7,-5,-3,-1],[13,-13,-11.5,-9.5,-7.5,-5.5,-3,-2],[12,-14,-12,-10,-8,-6,-4.5],[11,-15,-13,-11,-9,-7,-6],[10,-12,-10,-8,-7],[9,-11,-9,-7,-6],[8,-10.5,-9,-7,-6.5],[7.5,-15,-14,-13,-8,-7],[7,-15,-13.5,-7.5],[6,-14,-13,-7.5],[5.5,-13.5,-7.5,-7],[1.5,-12,-11],[1,-10.5,-9.5],
[18,-49.5,-48.5],[17,-50,-48.5],[16,-50.5,-48],[15,-50.5,-48],[14,-51,-49.5,-48],[13,-49.5,-48.5],[12,-48.5,-47.5],[11,-48,-47],[10,-46.5,-45,-43,-41.5,-40],[9,-46,-44,-42,-40],[8,-47,-45.5,-44,-42,-40.5],[7,-47,-44,-42],[6,-46,-44,-42,-40,-38.5],[5,-45,-43,-41,-39,-38],[4,-44,-42.5,-39,-38],[3,-44,-42.5],[2,-43.5,-42.5],[1,-43,-42],[0.5,-42,-41.5],
[7.5,-33],[6.5,-33.2],[5.5,-33.3],[4.5,-33.5],[3,-33.5],[2.5,-33,-30.5],[2,-34,-32,-30.5],[1,-36,-34,-32,-31],[0,-37,-35,-33,-31,-41,-39.5],
[-3,-47,-45.5],[-2,-44,-43],[-1,-42.5],[-5,-49.3],[-6.7,-51.2],[-1,-41,-39,-37,-35,-33,-31],[-2,-40,-38,-36,-34,-32,-30.5],[-3,-39,-37,-35,-33,-31,-29],[-2.5,-28.4],[-4,-40,-38,-37,-35,-33,-31,-30],[-5,-38,-35,-33,-31],[-6,-39,-37,-35,-33,-31],[-7,-36,-34,-32,-31],[-7.5,-35,-33],
[-1,-23,-21,-19,-17,-15,-13.5],[-2,-25,-23,-21,-19,-17,-15,-13,-11,-10],[-3,-26,-24,-22,-20,-18,-16,-14,-12,-10.5,-8.5],[-4,-27,-25,-23,-21,-19,-17,-15,-13,-11],[-5,-26,-24,-22,-20,-18,-16,-14,-12,-10],[-6,-26,-24,-22,-20,-18,-16,-14,-11.5],[-7,-25,-23,-21,-19,-17,-15,-14.5,-12,-10,-8,-6.5],[-8,-26,-24,-22,-20,-18,-13,-11,-9,-7],[-9,-25,-23,-21,-19,-17],[-10,-24,-22,-20,-18],[-11,-23,-21,-19,-17.5],[-12,-22,-20,-18],[-13,-21,-19,-17.5],[-14,-20,-18],[-15,-19,-17,-15,-13,-20],[-16,-20,-18,-16,-14,-12,-11],[-16.5,-20],[-17,-17,-15,-13,-11,-10],[-18,-17,-15,-13,-11],[-19,-16,-14,-12.5],
[1,-4,-3],[0,-5,-3],[-1,-5,-3.5],[-2,-5,-4,-3],[-3,-5,-3],[-4,-4.5,-3],[-5,-5,-3],[-6,-5,-3,-2.5],[-7,-5,-3.5],[-8,-4.5,-4],
[-8,0.2],[-9,1],[-10,1.5],[-11.3,-2.2],[-12,-3,-2,0,2,3.5],[-13,-4,-2,0,2,3],[-14,-5,-3,-1,1,3],[-15,-7,-5,-3,-1,1,2.5],[-16,-6.5,-5,-3,-1,1,2],[-17,-6,-5,-3,-1,-0.5,2.5],[-18,-5,-3,0],[-19,-5,-3],[-19.5,-0.5],[-20,-5,-3.5,5.3],[-21,-5,-3.5],[-22,-4.5,-3],[-23,-4,-2.5],[-23.3,2.5],[-24,-3,-2,-1],[-25,-2,-1],
[-6,4,5,7,8.2],[-7,4,6,7,8.3],[-8,3.5,5,6,7,8.2],[-9,3.5,5,6,7,8],[-10,3,5,6,7,7.8],[-11,4,5,6,6.5,7.2],[-12,5,6],[-5,8],
[-2,14.5,16],[-3,13,15,16],[-4,13,15,17,18],[-5,12,14,17.5,18.5],[-6,11.5,13,17,18],[-7,11,13,15.5,16],[-8,12,14,16],[-9,12.5,14,16],[-10,13,15],
[-13,8.5],[-14,6,8,9.5,11],[-15,6,7.5,10,12,13],[-16,5.5,7.5,9.5,11,13],[-17,6,8,10.5,13.5],[-18,6,8,12,13.5],[-19,5.5,7.5,9.5,11,13],[-20,5.5,7,9,11,12.5],[-21,6,8,10,12],[-22,5.5,7,9,11],[-23,5,7,9,10],[-24,4,6,8,9.5],[-25,5,7,9],[-26,4,6,7.5],[-27,5,6.5],[-28,5.5],
[-1.4,19],[-3,21,22.5],[-4,21,23,24],[-5,21,23,25],[-6,22,24,25],[-7,22,24,25.5],[-8,22,24,26],[-9,21,23,25,26.5],[-10,20,22,24,26,27],[-11,18,19.5,21,23,25,27,28],[-12,18,19.5,22,24,26,27.5],[-13,19,21,23,25,27,28],[-14,19,21,23,25,27.5],[-15,20,22,24,26,27.5],[-16,21,23,25,27.5],[-17,22,24,26,28],[-18,23,25,27],[-19,24,26,27],[-20,25.5,26.5],[-1.3,30.4],
[-3.5,31,32],[-4.5,30.5,32,33],[-5,31,32.5,35],[-6,33,35,37],[-7,33.5,35,37,38,39.5],[-8,34,36,39.5],[-9,35,36],
[0,44,46,48,46,47.5],[-1,43,45,47,48.5],[-2,42.5,44,46,48],[-3,42,44,46,48],[-4,40,41,43,45,47],[-5,39.5,41,43,45],[-6,40,42,43.5],[-7,41,42.5],
[-2,52.5,54,58,60,61.5],[-3,53,55,57,59,61],[-4,54,56,58,60,61.5],[-5,54,56,58,60,61.5],[-6,52,54,56,58,60,61.5,62.5],[-7,52,54,56,58,60,62,63],[-8,52,54,56,58,60,62],[-9,53,55,57,59,61,62],[-10,54,56,58,60],[-11,54,56,58],[-12,53.5,55,57],[-13,53.5,55],[-14,53,54],
[7,51.5],[6,51.5,52.5,61],[5.5,57.5,58.5,59],[5,51.5,53,61.5],[4.5,57.5,58.5],[4,52,53.5,62,63,64],[3,52,54,56,57,59.5,61,63,65],[2,52,54,60,62,64,65.5],[1,52,54,55,60,62,64,65.5],[0,53,55,56,61,63,65],[-1,61,63,65],
[0.7,75.3],[0.4,74.2,72.2,73.5],[-0.7,74],[-6.5,73],[-8,72.5,74,75],[-9,72.5,74,74.5],[-10,72.5,73.5],
[61,17],[60,17,18],[59,16.5,18],[58,16,18,20],[57,16,18,20,22,24,26,28,30,31],[56,15.5,18,22,24,26,28,30,32,34,35],[55,15,17,19,21,23,25,27,29,31,34,35],[54,15.5,17,19,22,24,26,28,30,31],[53,16,18,20,23,25,27,29,31,33],[52,17,19,21,23,25,27,29,31,33,34],[51,17,18,20,22,24,26,28,30,32,34,36],[50,17,19,21,23,25,27,29,31,33,35,36.5],[49,17.5,20,22,24,26,28,30,32,34,36],[48,18,20,22,24,26,28,30,32,34,35.5],[47,19,21,23,25,27,29,31,33,35],[46,20,22,24,26,28,30,32,34,35.5],[45,20,22,24,26,28,30,33,35],[44,21,23,25,27,29,31,33],[43,21,23,25,27,29,31,33,35],[42,22,24,26,28,30,32,33,34,35],[41,22,24,26,28,30,32,33.5,34.5,35.5],[40,23,25,27,29,33,34,35],[39.5,24,25,27.5,33,35],[39,34,36,37.5,38],[38,35.5,37],[37,37,38],[36.5,37.5],
[60.5,44.7],[59,44.5],[58,44.4],[57,44.2],[56,43.8],[55,43.5],[54.5,43.4],[51,45,45.5],[50,45.7,46],[54,54,55],[53,53.5,55,56.3],[52,54.5,55.5],
[48.5,48],[48,47.5],[47,47.5],[46,47,49],[45,47,49,50.5],[44,47,49],[43,47,48.5],[42,46,48,49.5],[41,45,46.5,48],[40.5,42.5,43],[40,44.5,46,47.5],[39.8,43],[39,44,46,47],[38,44,45.5],[37,43.5,45],[36.5,43.5],
[39,61.5],[38,59.5,61,62],[37,58,59.5,61,62.5],[36,57.5,59,61,62.5],[35,58,60,62,63],[34,56.5,58,60,62],[33,57,59,61,62],[32,57,59,61,61.5],[31,57.5,59,61],[30,58,60],[29.5,58,60.5],
[31,41.5],[30,42.5],[29,43],[28.5,43.5],[28,44],[27.5,44.5],
[29.5,49.5,50,51,52,53],[29,49,51,52],[28.9,55],[28,48.5,50,51,52.5],[27,49,52.5,62],[26,52.5,53.5,62.5,63],[25.5,51.2],[25,53,54,63,64],[24,49.5,51,53,55,61.5,63,64.5],[23,50,52,54,56,62,64,65],[22,49,51,53,55,56.5,63,64.5],[21,49,51,53,55,57,58.5,60,61,63,64.5],[20.5,64],[20,48.5,50,52,54,56,58,60.5],[19,50,52,54,56,59.5,61,64.5,65],[18,49.5,51,53,55,57,59,61,62,64.5,65.5],[17,50,52,54,56,60,62,65,66],[16,50.5,52,54,56,58,60,62,65.5,66.5],[15,51,53,55,57,59,61,63,64.5,65,66],[14,51,53,55,57,59,61,63,65],[13,52,54,56,58,60,62,64,66,67.5],[12,52,54,56,58,60,62,65,67],[11,55,56,58,60],[10.5,56,58.5],[19.4,25.6],[19.1,27.6],
[21,40,42],[20.5,39,41.5],[20,39,40],[19,38,39.5],[18,34,36,38],[17,34,36,38,39],[16.5,30,31],[16,33,35,37,39,41,42],[15,28,30,32,34,36,38,40,42],[14,28,30,32,34,36,38,40,43],[13,27,29,31,33,35,37,39,41,43],[12,27,29,31,33,35,37,39,41,43],[11,27,29,31,33,35,37,39,41,43],[10,26.5,28,30,32,34,36,38,40,42,44],[9,27,29,31,33,35,37,39,41,43,44],[8,27,29,31,33,35,37,39,41,43,44.5],[7,26,28,30,32,34,36,38,40,42,44],[6,27,29,31,33,35,37,39,41,43],[5,24.5,26,28,30,32,34,36,38,40,42],[4,24,26,28,30,33,35,37,39,41],[3,24,26,28,32,34,36,38,40],[2,23,25,27,29,33,35,37,39],[1,23,25,27,29,34,36],[0,24,26,28],[-0.5,25],
[-47,27,28,29,31.6],[-48,25,27,29,30],[-49,13,15,17,19,24,26,28,30],[-50,12.5,14,16,18,20,22,24,26,28,30],[-51,12,14,16,18,20,22,24,26,28,30],[-52,12,14,16,18,20,22,25,29,31],[-53,13,15,17,19,21,23,28,30,32.5],[-54,12,14,16,18,20,22,24,26,28,30,32],[-55,11,13,15,18,20,22,24,26,28,30,31],[-56,10,12,14,19,21,23,25,27,29,31],[-57,10,12,14,17,19,21,23,25,27,29,30],[-58,10,11.5,14,16,18,21,23,25,27,29,31],[-59,9.5,11,13,21,24,26,28,30],[-60,10,12,14,16,23,25,27,28],[-61,10.5,12,14,17,22,24,26,28],[-62,11,13,15,18,19,21,23,25,27,28.5],[-63,11,13,15,19,21,23,25,27,29,8,9.5],[-64,12,14,20,22,24,27,29.5,8],[-65,14,21,23,25,7.7,9],[-66,8.5,9.5,10.5,11.5],[-66.5,9,22.8],
[-50,42.5],[-51,42,43.5],[-52,42,43.5],[-53,40,41,42,44,45,46],[-54,39,41,43,45,46],[-55,42,44,45.5],[-56,42,43.5],[-57,42,43],[-58,42,43],[-58.5,42.5],
[-18,54.5,64,66,67],[-19,52,53,54,62,64,66,67],[-20,51.5,53,61,63,65,66.5],[-21,51,61,63,65,66],[-21.5,56,56.5],[-22,50.5,51,52,53,60,62,64,66],[-23,50,51.5,52.5,59,61,63,65,66],[-24,49.8,50.5,59,61,63,65],[-25,60,62,64,65],[-26,58,60,62,64],[-27,58,60,62,63.5],[-28,58,59.5],[-28.5,58.5],
[-39,59.5,60],[-40,58.5,59],[-40.5,58],
[-12,-66.5,-65,-64],[-13,-67,-65,-63.5],[-14,-68,-66,-64,-63],[-15,-69,-67,-65,-63,-62.5],[-16,-70,-68,-66,-64,-63],[-17,-70,-68,-66,-64,-63],[-18,-70,-69,-67,-65,-63,-61.5,-60.5],[-19,-70,-68,-66,-64,-62,-61],[-20,-68.5,-67,-65,-63],[-21,-68,-66,-64,-63],[-22,-67,-65,-63],[-23,-66,-64,-63],[-24,-66,-64.5],[-24.5,-65.5]
];
const reducedAF=[
[71,-7.2],[70,-7.2,-6.5],[69,-7.3,-6.5,-6],[68,-7,-6],[67.5,-7,-5.7,-5.3],[67,-5.5],
[65,-4.5],[64,-4.5,-3],[63,-4,-2.5],[62,-3.5,-2,-0.5],[61,-3.5,-2,-0.5,0.5],[60,-4,-2,0,1],[59,-3,-1,1,2,3],[58,-3,-1,1,3],[57,-2,0,2,3.5],[56,-1.5,0,2,4],[55,-0.5,1,3,4],[54,0,2,4,5],[53,1,3,5,6],[52,2,4,6,7.5],[51,3,5,7,9],[50,3,5,7,9,10],[49,4,6,8,10],[48,5,7,9,10],[47,6,8,9.5],[46.5,9],[46,7],
[50,-50,-49,-48],[49,-50.5,-49,-47,-46],[48,-51,-49,-47,-45.5],[47,-51,-49,-47,-45],[46,-51,-49.5,-47.5,-45.5],[45,-51.5,-50,-48,-46,-45],[44,-51.5,-50,-48,-46,-44.5],[43,-51,-49,-47,-45,-44],[42,-51.5,-50,-48,-46,-44,-43.5],[41,-51,-49,-47,-45,-44],[40,-51,-49,-47,-45],[39,-51.5,-50,-48,-46],[38,-50,-48,-46],[37,-51.5,-50,-48,-47],[36,-51.5,-50,-48,-47],[35,-51,-49,-47],[34,-51,-49,-47],[33,-53,-52,-50,-48,-47],[32,-54,-52,-50,-48,-46],[31,-51,-49,-47,-45.5],[30,-49,-47,-45],[29,-51,-49,-47,-45,-44.5],[28,-50,-48,-47,-45,-44],[27,-49,-47,-45,-44,-43],[26,-49,-47,-45,-44,-43],[25,-48.5,-47,-44,-43,-42],[24,-47,-46,-44,-42.5,-42],[23,-45,-43.5,-42.5],[22,-45,-43.5,-44.5],[21,-44.5],
[33.5,-57,-56],[33,-57.5,-56],[32,-58,-56.5,-55.5],[31,-60,-58.5,-57],[30,-61,-59,-57.5],[29,-62,-60,-58.5],[28,-62.5,-61,-59.5],[27,-63,-61.5,-60.5],[26,-63.5,-62],[25,-63.5,-62],[24.5,-62.8],
[17,-66,-65],[16,-66,-64.5],[15,-67,-65,-63.5,-61.5],[14,-67.5,-66,-64,-62,-61.5],[13,-67,-65,-63,-61.5],[12,-68,-66,-64,-62,-60],[11,-67,-65,-63,-61,-59.5],[10,-69,-67,-65,-63,-61,-59,-58],[9,-67.5,-66,-64,-62,-60,-58],[8,-67,-65,-63,-61,-59,-57.5],[7,-66,-64,-62,-60,-58,-57],[6,-66,-65,-63,-61,-59,-57,-56],[5,-65,-64,-62,-60,-58,-56],[4,-65,-63,-61,-59,-57,-55],[3,-65,-64,-62,-60,-58,-56,-55],[2,-64,-63,-61,-59,-57,-55,-54],[1,-64,-62,-60,-58,-56,-54,-53.5],[0,-63,-61,-59,-57,-55,-53.5],[-1,-63,-61,-59,-57,-55,-53],[-2,-62,-60,-58,-56,-54.5,-53],[-3,-61,-59,-57,-55],[-4,-60,-58,-56,-54],[-5,-59,-57,-55.5,-54,-52.5],[-6,-58,-56,-53.5,-52],[-6.5,-57,-55.5,-51.5],
[-10,-45,-43.5],[-11,-46,-44,-42.5],[-11.3,-49.8],[-12,-47,-45,-43,-41],[-13,-48,-46,-44,-42,-40,-39.5,-29],[-13.9,-50],[-14,-47,-45,-43,-41,-39,-29.5,-28],[-15,-48,-46,-44,-42,-40,-38.5,-31,-29,-27.5],[-16,-47,-45,-43,-41,-39,-38,-32.5,-30,-28,-26],[-17,-52,-51,-48,-46,-44,-42,-40,-38,-37,-31,-29,-27,-26],[-18,-52,-51,-47,-45,-43,-41,-39,-37,-35.2,-32,-30,-28,-26],[-19,-52.5,-51,-49,-46,-44,-42,-40,-38,-36.5,-31,-29,-27,-26],[-19.8,-32.5],[-20,-51,-49,-47,-45,-43,-41,-39,-37,-35.5,-29,-27],[-21,-52,-50,-48,-46,-44,-42,-40,-38,-36,-34.5,-28,-26,-24.5],[-22,-51,-49,-47,-45,-43,-41,-39,-37,-35,-34,-31,-29,-27,-25,-24],[-23,-51.5,-50,-48,-46,-44,-42,-40,-38,-36,-34,-33,-30,-28,-26,-24,-23],[-24,-52,-49,-47,-45,-43,-41,-39,-37,-35,-33,-29,-27,-25,-23,-22],[-25,-53,-52,-50,-48,-46,-44,-42,-40,-38,-36,-34,-32,-30,-28,-27,-25.5,-23,-21.5],[-26,-54,-51,-49,-47,-45,-43,-41,-39,-37,-35,-33,-31,-30,-28,-26,-24,-22,-21],[-26.5,-19,-18,-17],[-27,-53,-52,-50,-48,-46,-44,-42,-40,-38,-36,-34,-32,-30,-28,-27,-25,-22,-20.5,-19],[-27.5,-17.5],[-28,-53,-51,-49,-47,-45,-43,-41,-39,-37,-35,-33,-31,-29,-27,-26.5,-21,-19],[-29,-52,-50,-48,-46,-44,-42,-40,-38,-36,-34,-32,-30,-28,-26,-22,-20,-18.5],[-30,-53.7,-51.5,-51,-49,-47,-45,-43,-41,-39,-37,-35,-33,-31,-29,-27,-25,-26,-24,-21,-19,-18],[-31,-52,-50,-48,-46,-44,-42,-40,-38,-36,-34,-32,-30,-28,-26,-24.5,-24,-22,-20,-18,-17],[-32,-51,-49,-47,-45,-43,-41,-39,-37,-35,-33,-31,-29,-27,-25,-23,-21,-19,-17,-16],[-33,-52,-48,-46,-44,-42,-40,-38,-36,-34,-32,-30,-28,-26,-24,-22,-20,-18,-16],[-34,-47,-45,-43,-41,-39,-37,-35,-33,-31,-29,-27,-25,-23,-21,-19,-17,-15],[-35,-48,-46,-44,-42,-40,-38,-36,-34,-32,-30,-28,-24,-22,-20,-18,-16,-15],[-36,-47,-45,-43,-41,-39,-37,-35,-33,-31,-30,-28,-26,-25,-23,-21,-19,-17,-16],[-37,-44,-42,-40,-38,-36,-34,-32.5,-31,-29,-27,-25,-24.5,-22,-20,-18,-16],[-38,-47,-42,-40,-38,-35,-33,-31.5,-26,-25,-23,-21,-19,-17],[-39,-39.5,-36,-34,-32,-31,-28,-26.5,-22,-20,-18.5],[-40,-35.5,-34,-31,-21.5],[-41,-35,-34],[-41.3,-30.3],[-41.7,-18.2],[-42.5,-37.7],
[-42,-47],[-42.5,-49.5],[-43.5,-49.5],[-44,-50,-49],[-45,-50,-49],[-46,-50,-48.5],[-47,-50,-48,-47],[-47.5,-46,-45,-43],[-48,-50,-48,-46,-44,-42],[-48.5,-41,-40],[-49,-50.5,-48,-46,-44,-42,-40,-39],[-50,-49,-47,-45,-43,-41],[-51,-49,-47,-45,-43,-41],[-52,-48,-46,-44,-42.5],[-53,-47,-45,-43],[-54,-46,-45,-43],[-55,-46,-44.5,-43],[-56,-45,-44,-42.5],[-57,-44.5,-43,-41.5],[-58,-41],[-59,-41],
[-40,-29],[-41,-28.5,-27.5],[-42,-28,-26,-24,-23],[-43,-27,-25,-23,-22.5],[-44,-26,-24,-23],[-45,-36,-34.5,-33,-29,-27,-26,-24],[-46,-36,-34,-32.5,-30,-28,-26,-24,-23,-27,-25],[-47,-35,-32,-31,-29,-27,-25,-23],[-48,-36,-33,-30,-28,-26,-24,-23],[-49,-33,-31,-29,-27,-25,-23],[-50,-35,-33.5,-32,-30,-28,-26,-24,-22.5],[-51,-35,-33.5,-31,-29,-27,-25,-23,-22],[-52,-32,-30,-28,-26,-24,-22.5],[-53,-33,-31,-29,-27,-25,-23],[-54,-30,-28,-26,-24,-23],[-55,-28,-26,-24,-23],[-56,-27,-25,-23,-21.5],[-57,-25,-23,-21.5],[-58,-26,-24,-22,-21],[-59,-28,-26,-24,-22,-20.5],[-60,-27,-25,-23,-21,-20],[-61,-28,-26,-24,-22,-20],[-62,-28,-26,-24,-22,-20.5,-19.7],[-63,-27,-25,-23,-21],[-64,-27,-25,-23],[-65,-25,-24],[-65.5,-24],
[-23,-12,-11,-10.5],[-24,-13,-12,-10.5,-10],[-25,-13.5,-11,-9],[-26,-13,-12,-9.5],[-27,-13,-8.5,-7.5],[-28,-10.5,-9,-7.5],[-29,-13.5,-12.5,-9.5,-8,-6],[-30,-10,-8,-6,-5,-3,-2.5],[-31,-8,-6,-4,-2.5],[-32,-11,-10,-8,-6,-4,-2,-1],[-33,-10,-8,-6,-4,-2,-0.5,0.5],[-34,-8.5,-6,-4,-2,-0.5],[-35,-8,-6,-4,-2],[-36,-8.5,-7,-5,-3,5.7],[-37,-7.5,-5,-3,-2],[-38,-6,-4,-2],[-39,-5,-3,-1.5],[-40,-3,-2,-0.5,2,3,4],
[-41,-3,-1.5,1.5,3,4],[-42,-10,-6.5,1,2.5,4],[-43,-13,-10,-6.5,1,3,4.5],[-44,-13,-11,-7,-5,-4.5,0,2,4],[-45,-13,-11,-9,-7,-5,-2,0,2,4,5],[-46,-12,-10,-8,-6,-4,-2,0,2,4,5],[-47,-13,-11,-9,-7,-5,-3,0,2,4,5],[-48,-12,-10,-8,-6,-4,-2,0,2,4],[-49,-11,-9,-7,-5,-3,-1,1,3,5],[-50,-11,-10,-8,-6,-4,-2,0,2,4,6],[-51,-9,-7,-5,-3,-1,1,3,5],[-52,-7,-5,-3,-1,1,3,5,6,-10.5,-9.5],[-53,-7.5,-3,-1,1,3,5,6,-11.5,-10],[-54,-2.5,-1,1,3,5,6,-11.5,-10],[-55,-3,0.5,2,3,-11,-8.5],[-56,0,1.5,-10,-8,-6.5],[-57,-1,0.5,-1.6,-12.5,-11,-9,-7,-5,-4,-3],[-58,-1,-0.5,-12.5,-11,-9,-7,-5,-3,-2.5],[-59,-12.5,-11,-9,-7,-5,-3.5],[-60,-11,-9,-7,-5,-4],[-61,-10,-8,-6,-4.5],[-62,-9,-7,-5,-4],[-63,-8,-6,-4],[-64,-8,-6,-5],[-65,-7,-5.5],
[43,9.5],[42.5,9,10,12],[42,9,11,12.5],[41,9.5,11,12.5],[40,10,12,13,14],[39,10.5,12,14,15,7,8],[38,11,13,15,16.5,7,8.5,9],[37,12,13.5,15,17,18,7.5,9],[36,14,16,18,19,7.5,9],[35,15,17,19,8.5,9.5],[34,15,17,18],[33,15,17,18],[32,15,16.5,18,19.3,12,13.5],[31.5,16.5],
[15,4.5],[14,3.5,5],[13,3.5,5,6],[12,4,6],[11,4.5,6],
[31,12,14],[30,10,12,14],[29,9,11,13,15,18.4],[28,9,11,13,15,18],[27,8,10,12,14,15,17,18],[26,9,11,13,15,17,19],[25,8,10,12,14,16,18,20],[24,7.5,9,11,13,15,17,19],[23,8,10,12,14,16],[22,7.5,9,11,13,15],[21,8,10,12,14,16,18,20,22],[20,7.5,9,11,13,15,17,19,21,22.5],[19,8,10,12,14,16,18,20,22],[18,7.5,9,11,13,15,17,19,21],[17,8,10,12,14,16,18,20],[16,8,10,12,14,16,18,19],[15,9,11,13,15,17,19],[14,9.5,11,13,15,17,18],[13,10,12,14,16,17,19,21,22],[12,10,12,14,15.5,18,20,22],[11,10,12,14,17,19,21,22],[10,10.5,12,14,15,17,19,20.5],[9,9.5,11,12,13.5,14.5,17.5,19,20.5],[8,11.5,12,18,19.5],[7,12,18,19.5,20],[6.6,22.6],[6.5,12],[6,16,18,19.5],[5,15,17,19],[4,15,17,18],[3,15.5,16.5,18],[2.5,15,16,17.5],
[32,22,24],[31,21.5,23,25,29,32.5],[30,21,23,25,26,28,32,33,34,36],[29,21,23,25,27,28,30.5,32,34,36],[28,20.5,22,24,26,28,30,32,34,36],[27,21,23,25,27,29,30.5,32,34,36,36.5],[26,22,24,26,28,29.5,31,33,35,36.5],[25,22.5,24,26,28,30,30.5,32,34,36.5],[24,23,25,27,28,30,31,33,35,36],[23,21,23,25,27,29,31.5,33,35],[22.5,33],[22,21,23,25,26.5,28],[21,22,24,26.5,28],[20,25,27,28.5],[19.5,26],
[9,2,4],[8,1,3,5],[7,0,2,4,5,7,9],[6,0,1,3,5,6,8,10,12],[5,0,2,4,6,7,9,11,12.5],[4,1,3,5,6,8,10,12,13],[3,0.5,2,4,6,7,9,11,13],[2,1,3,5,6,8,10,12,13],[1,1.5,3,5,6,8,10,12,13],[0,2,4,5,6,8,10,12],[-1,3,5,7,9],
[-15,34.5,36.5],[-16,33.5,35,36],[-16.5,31.5,32.5,33.5],[-17,32],[-12,44.5],[-13,44,45],[-14,42,43.5,45],[-15,41,43,45,46],[-16,40,42,44,46,47],[-17,40,42,44,46,47],[-18,43,46,48],[-18.5,43,47],
[-21,41,42],[-21.5,42,43],[-22,40.5,42,43],[-23,30.8,39.5,41,43],[-24,18,20,22,29,33,35,38.5,40,42],[-24.5,17.5,19],[-25,16,18,20,28,30,33,35,37,39,41],[-26,14.5,16,18,20,22,24,26,28,30,32,34,36,38,40,42],[-27,17,19,21,23,25,27,29,31,33,35,37,39,41,42],[-28,19,21,23,25,27,29,31,33,35,37,39,41,42.8],[-29,19,21,23,25,27,29,31,33,35,37,39,41,42],[-30,20,22,24,26,28,30,33,35,37,39,42,43.5],[-31,10,12,14,19,21,23,25,27,29,34,36,38,41,43,45],[-32,8,10,12,14,16,18,20,22,24,26,28,33,35,37,40,42,44,46],[-33,7.5,9,11,13,15,17,19,21,23,25,27,29,31,35,37,39,41,43,45,47],[-34,7,8,10,12,14,16,18,20,22,24,26,28,30,32,35,37,39,41,43,45,47],[-35,5,6.5,8,10,12,14,16,18,20,22,24,26,28,30,33,35,37,39,41,43,45,47],[-36,5,8,10,12,14,16,18,20,22,24,26,28,31,33,35,37,41,43,45,47,48],[-37,6,9,11,13,15,17,19,21,23,25,27,28.4,30,32,34,36,39,41,43,45,47,48],[-38,9,11,13,15,17,19,21,23,24,25,28.5,33,35,37,39,42,44,46,48],[-38.6,7.5],[-39,9,11,13,15,17,19,21,23,33,35,39.5,43,45,47,49],[-40,9,10,12,14,16,18,20,22,36,38,41,42,44,46,48,50],[-41,8,9,11,13,15,17,19,21,37,44,46,48],[-42,13,15,17,20,44,46,48,49],[-43,14.5,45,47],[-44,47],[-44.5,47],
[-32,53,54],[-33,53,54.5],[-34,53,54.5,55],[-35,52,53.5,55],[-36,53,54],[-37,53.5,54],[-38,52.5,54],[-39,54.3],
[-57.5,8.7],[-67.4,23.1],[36.6,43.6],[30.4,40.4],[-6.8,73.2],[6,72.7],[5.5,72.9],[5,73],[4.5,73.2],[4,73.3],[3.5,73.5],[3,73.6],[2.5,73.8],[2,74],[1.5,74.2],[1,74.4],[0.5,73.5,72.3]
];
const toPoints=rows=>rows.flatMap(([y,...xs])=>xs.map(x=>[x,y]));
// Marks inside a packed region are drawn wider so that the clusters read as solid, as they do in the reference.
function withDensity(points){
  return points.map(p=>{
    let n=0;
    for(const q of points){const dx=q[0]-p[0],dy=q[1]-p[1];if(dx*dx+dy*dy<=5.3&&q!==p)n++;}
    return [p[0],p[1],n];
  });
}
const BLUE='#4C72B0',ORANGE='#DD8452',INK='#262626',FONT='"Liberation Sans",Arial,sans-serif';
const fmt=v=>String(v).replace('-','\u2212');
function axis(type,name,ticks,min,max,gap,idx){
  return {type:'value',gridIndex:idx,min,max,name,nameLocation:'middle',nameGap:gap,
    nameTextStyle:{color:INK,fontSize:27,fontFamily:FONT},
    axisLine:{show:false},axisTick:{show:false,customValues:ticks},
    axisLabel:{customValues:ticks,color:INK,fontSize:24.5,fontFamily:FONT,margin:type==='x'?21:23,formatter:fmt,showMinLabel:true,showMaxLabel:true},
    splitLine:{show:true,lineStyle:{color:'#fff',width:2.5}}};
}
function series(name,rows,color,idx){
  return {type:'scatter',name,data:withDensity(toPoints(rows)),xAxisIndex:idx,yAxisIndex:idx,symbol:'circle',
    symbolSize:v=>v[2]>=6?25:(v[2]>=5?22:(v[2]>=3?19.5:16.5)),encode:{x:0,y:1},
    itemStyle:{color,opacity:1},silent:true,progressive:0,large:false,clip:true,animation:false};
}
const legendBase={orient:'vertical',icon:'circle',itemWidth:16,itemHeight:16,itemGap:11,padding:0,selectedMode:false,
  textStyle:{color:INK,fontSize:24.5,fontFamily:FONT,padding:[0,0,0,33]}};
const capStyle=size=>({fontFamily:'"Liberation Serif",serif',fontSize:size,color:'#000'});
const capRich=size=>({b:Object.assign(capStyle(size),{fontWeight:'bold'}),n:Object.assign(capStyle(size),{fontWeight:'normal'})});
const chart=echarts.init(document.getElementById('c'),null,{renderer:'canvas'});
chart.setOption({
  animation:false,backgroundColor:'#fff',
  title:[
    {text:'label',left:1893,top:754,padding:0,textStyle:{color:INK,fontSize:26.5,fontWeight:'normal',fontFamily:FONT}},
    {text:'label',left:3856.6,top:754,padding:0,textStyle:{color:INK,fontSize:26.5,fontWeight:'normal',fontFamily:FONT}},
    {text:'{n|(}{b|a}{n|) A full set of features.}',left:602,top:1646,padding:0,textStyle:{fontWeight:'normal',rich:capRich(80)}},
    {text:'{n|(}{b|b}{n|) A reduced set of features.}',left:2485,top:1645,padding:0,textStyle:{fontWeight:'normal',rich:capRich(81)}}
  ],
  grid:[
    {left:130.7,top:44,width:1735.3,height:1439,backgroundColor:'#EAEAF2',show:true,borderWidth:0},
    {left:2096.3,top:52.4,width:1733.4,height:1430.6,backgroundColor:'#EAEAF2',show:true,borderWidth:0}
  ],
  xAxis:[axis('x','1st-Dim (t-SNE)',xTickLabels,-76.3,82.3,61,0),axis('x','1st-Dim (t-SNE)',xTickLabels,-77.55,82.5,61,1)],
  yAxis:[axis('y','2nd-Dim (t-SNE)',yTickLabels,-73.7,82,75,0),axis('y','2nd-Dim (t-SNE)',yTickLabels,-74.2,80,79,1)],
  legend:[
    Object.assign({},legendBase,{left:1865.7,top:797,data:['nonA','AF']}),
    Object.assign({},legendBase,{left:3829.8,top:797,data:['nonAF','AF']})
  ],
  series:[
    series('nonA',fullNonAF,BLUE,0),series('AF',fullAF,ORANGE,0),
    series('nonAF',reducedNonAF,BLUE,1),series('AF',reducedAF,ORANGE,1)
  ]
});
</script></body></html>
